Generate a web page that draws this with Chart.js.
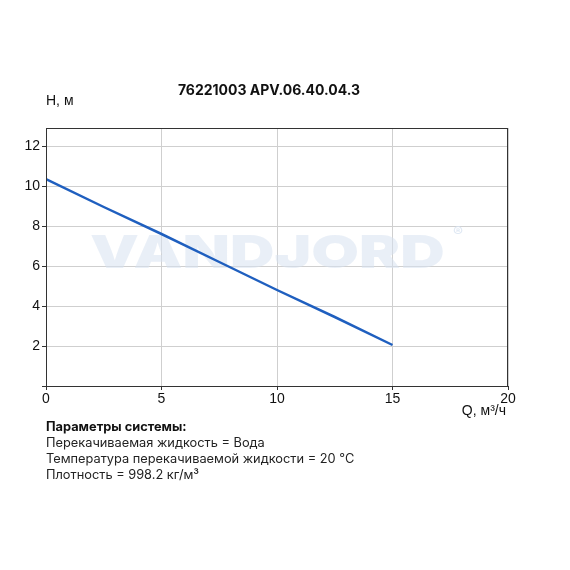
<!DOCTYPE html>
<html>
<head>
<meta charset="utf-8">
<script src="https://cdn.jsdelivr.net/npm/chart.js@4"></script>
<style>
  body { margin: 0; background: #fff; }
  #wrap { position: relative; width: 570px; height: 570px; }
  #params {
    position: absolute; left: 46px; top: 419px;
    font-family: Inter, "Open Sans", sans-serif; font-size: 12.8px; line-height: 16px; color: #222;
  }
  #params b { font-weight: 700; color: #111; }
</style>
</head>
<body>
<div id="wrap">
  <canvas id="pumpChart" width="570" height="570"></canvas>
  <div id="params">
    <b>Параметры системы:</b><br>
    Перекачиваемая жидкость = Вода<br>
    Температура перекачиваемой жидкости = 20 °C<br>
    Плотность = 998.2 кг/м³
  </div>
</div>
<script>
// pump curve Q-H
const flow = [0, 2.5, 5, 7.5, 10, 12.5, 15];
const head = [10.35, 8.95, 7.6, 6.2, 4.8, 3.45, 2.05];
const xTicks = [0, 5, 10, 15, 20];
const yTicks = [0, 2, 4, 6, 8, 10, 12];

const titleText = "76221003 APV.06.40.04.3";

// watermark, frame and axis captions
const extras = {
  id: "extras",
  beforeDatasetsDraw(chart) {
    const ctx = chart.ctx;
    ctx.save();
    ctx.fillStyle = "rgba(215, 226, 240, 0.55)";
    ctx.textAlign = "left";
    ctx.textBaseline = "middle";
    ctx.translate(90, 254);
    ctx.scale(1.34, 1);
    ctx.font = "900 46px Inter, 'DejaVu Sans', sans-serif";
    ctx.fillText("VANDJORD", 0, 0);
    ctx.restore();
    ctx.save();
    ctx.fillStyle = "rgba(215, 226, 240, 0.8)";
    ctx.font = "15px Inter, sans-serif";
    ctx.textBaseline = "middle";
    ctx.fillText("®", 453, 232);
    ctx.restore();
  },
  afterDraw(chart) {
    const ctx = chart.ctx;
    const a = chart.chartArea;
    ctx.save();
    ctx.strokeStyle = "#333";
    ctx.lineWidth = 1;
    ctx.strokeRect(a.left + 0.5, a.top + 0.5, a.right - a.left - 1, a.bottom - a.top);

    ctx.fillStyle = "#111";
    ctx.font = "700 14px Inter, 'Open Sans', sans-serif";
    ctx.textAlign = "center";
    ctx.textBaseline = "middle";
    ctx.fillText(titleText, 269, 91);

    ctx.font = "14px 'Liberation Sans', Arial, sans-serif";
    ctx.textAlign = "left";
    ctx.fillText("H, м", 46, 101);
    ctx.textAlign = "right";
    ctx.fillText("Q, м³/ч", 506, 411);
    ctx.restore();
  }
};

new Chart(document.getElementById("pumpChart"), {
  type: "line",
  data: {
    datasets: [{
      data: flow.map((q, i) => ({ x: q, y: head[i] })),
      borderColor: "#1f5fbf",
      borderWidth: 2.5,
      pointRadius: 0,
      tension: 0,
      fill: false
    }]
  },
  options: {
    responsive: false,
    animation: false,
    layout: { padding: { left: 0, right: 62, top: 128, bottom: 164 } },
    plugins: { legend: { display: false }, tooltip: { enabled: false } },
    scales: {
      x: {
        type: "linear",
        min: 0,
        max: 20,
        afterBuildTicks: s => { s.ticks = xTicks.map(v => ({ value: v })); },
        afterFit: s => { s.height = 20; },
        grid: { color: "#cfcfcf", tickColor: "#333", tickLength: 4 },
        border: { color: "#333" },
        ticks: { color: "#111", padding: 1, font: { family: "'Liberation Sans', Arial, sans-serif", size: 14 } }
      },
      y: {
        min: 0,
        max: 12.9,
        afterBuildTicks: s => { s.ticks = yTicks.map(v => ({ value: v })); },
        afterFit: s => { s.width = 46; },
        grid: { color: "#cfcfcf", tickColor: "#333", tickLength: 4 },
        border: { color: "#333" },
        ticks: {
          color: "#111",
          padding: 2,
          font: { family: "'Liberation Sans', Arial, sans-serif", size: 14 },
          callback: v => (v === 0 ? "" : v)
        }
      }
    }
  },
  plugins: [extras]
});
</script>
</body>
</html>
